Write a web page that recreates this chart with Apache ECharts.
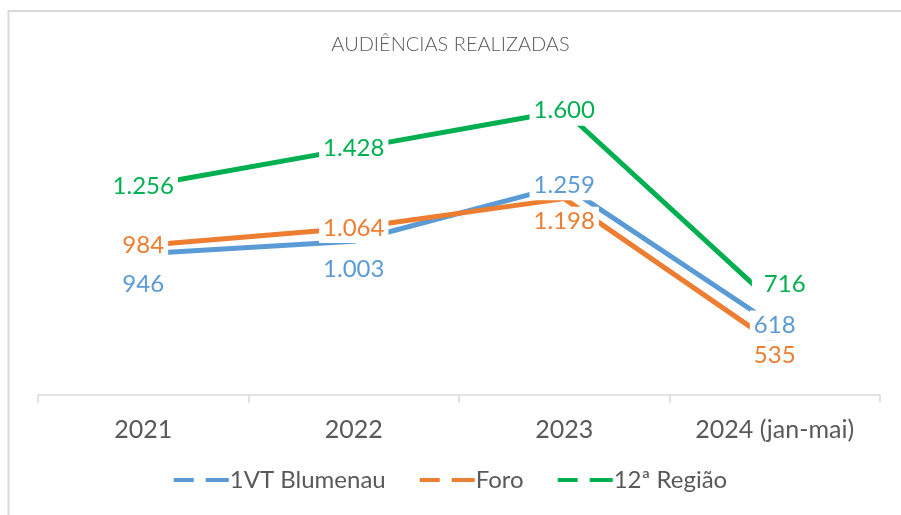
<!DOCTYPE html>
<html>
<head>
<meta charset="utf-8">
<script src="https://cdn.jsdelivr.net/npm/echarts@6/dist/echarts.min.js"></script>
<style>
  html, body { margin: 0; padding: 0; background: #fff; }
  #main { width: 901px; height: 515px; }
</style>
</head>
<body>
<div id="main"></div>
<script>
// dados
const categorias = ['2021', '2022', '2023', '2024 (jan-mai)'];
const blumenau = [946, 1003, 1259, 618];
const foro = [984, 1064, 1198, 535];
const regiao = [1256, 1428, 1600, 716];

const azul = '#5B9BD5';
const laranja = '#ED7D31';
const verde = '#00B050';

const fonte = 'Lato, "Open Sans", sans-serif';

// formato pt-BR: 1.256
function fmt(v) {
  return v.toLocaleString('de-DE');
}

// rotulo com fundo branco (esconde a linha atras, como no Excel)
function rotulo(cor) {
  return {
    show: true,
    position: 'inside',
    color: cor,
    fontFamily: fonte,
    fontSize: 24,
    backgroundColor: '#fff',
    padding: [3, 4, 3, 4],
    formatter: p => fmt(p.value)
  };
}

const iconeTracejado = 'path://M0,0 h20 v4 h-20 z M32,0 h23 v4 h-23 z';

const chart = echarts.init(document.getElementById('main'));

const option = {
  backgroundColor: '#fff',
  animation: false,
  title: {
    text: 'AUDIÊNCIAS REALIZADAS',
    left: 'center',
    top: 30,
    textStyle: {
      color: '#595959',
      fontFamily: fonte,
      fontWeight: 300,
      fontSize: 20
    }
  },
  legend: {
    bottom: 18,
    left: 'center',
    itemWidth: 55,
    itemHeight: 4,
    itemGap: 34,
    icon: iconeTracejado,
    textStyle: {
      color: '#595959',
      fontFamily: fonte,
      fontSize: 24,
      padding: [0, 0, 0, -4]
    },
    data: ['1VT Blumenau', 'Foro', '12ª Região']
  },
  graphic: [{
    type: 'rect',
    shape: { x: 8.5, y: 11, width: 1000, height: 600 },
    style: { fill: 'none', stroke: '#d9d9d9', lineWidth: 2 },
    silent: true
  }],
  grid: { left: 38, right: 21, top: 67, bottom: 120 },
  xAxis: {
    type: 'category',
    data: categorias,
    axisLine: { lineStyle: { color: '#d9d9d9', width: 1.5 } },
    axisTick: { show: true, length: 8, lineStyle: { color: '#d9d9d9', width: 1.5 } },
    axisLabel: {
      interval: 0,
      color: '#595959',
      fontFamily: fonte,
      fontSize: 25,
      margin: 22
    }
  },
  yAxis: {
    type: 'value',
    min: 300,
    max: 1800,
    show: false,
    splitLine: { show: false }
  },
  series: [
    {
      name: '1VT Blumenau',
      type: 'line',
      color: azul,
      symbol: 'circle',
      symbolSize: 0,
      lineStyle: { width: 5, color: azul },
      label: rotulo(azul),
      // 946 e 1.003 ficam abaixo do ponto
      data: blumenau.map((v, i) => {
        if (i === 0) return { value: v, label: { position: 'bottom', distance: 16 } };
        if (i === 1) return { value: v, label: { position: 'bottom', distance: 13 } };
        return v;
      })
    },
    {
      name: 'Foro',
      type: 'line',
      color: laranja,
      symbol: 'circle',
      symbolSize: 0,
      lineStyle: { width: 5, color: laranja },
      label: rotulo(laranja),
      data: foro.map((v, i) => {
        if (i === 2) return { value: v, label: { position: 'bottom', distance: 8 } };
        if (i === 3) return { value: v, label: { position: 'bottom', distance: -3 } };
        return v;
      })
    },
    {
      name: '12ª Região',
      type: 'line',
      color: verde,
      symbol: 'circle',
      symbolSize: 0,
      lineStyle: { width: 5, color: verde },
      label: rotulo(verde),
      data: regiao.map((v, i) => {
        if (i === 3) return { value: v, label: { offset: [6, -20], padding: [3, 4, 18, 12] } };
        return v;
      })
    }
  ]
};

chart.setOption(option);
</script>
</body>
</html>
